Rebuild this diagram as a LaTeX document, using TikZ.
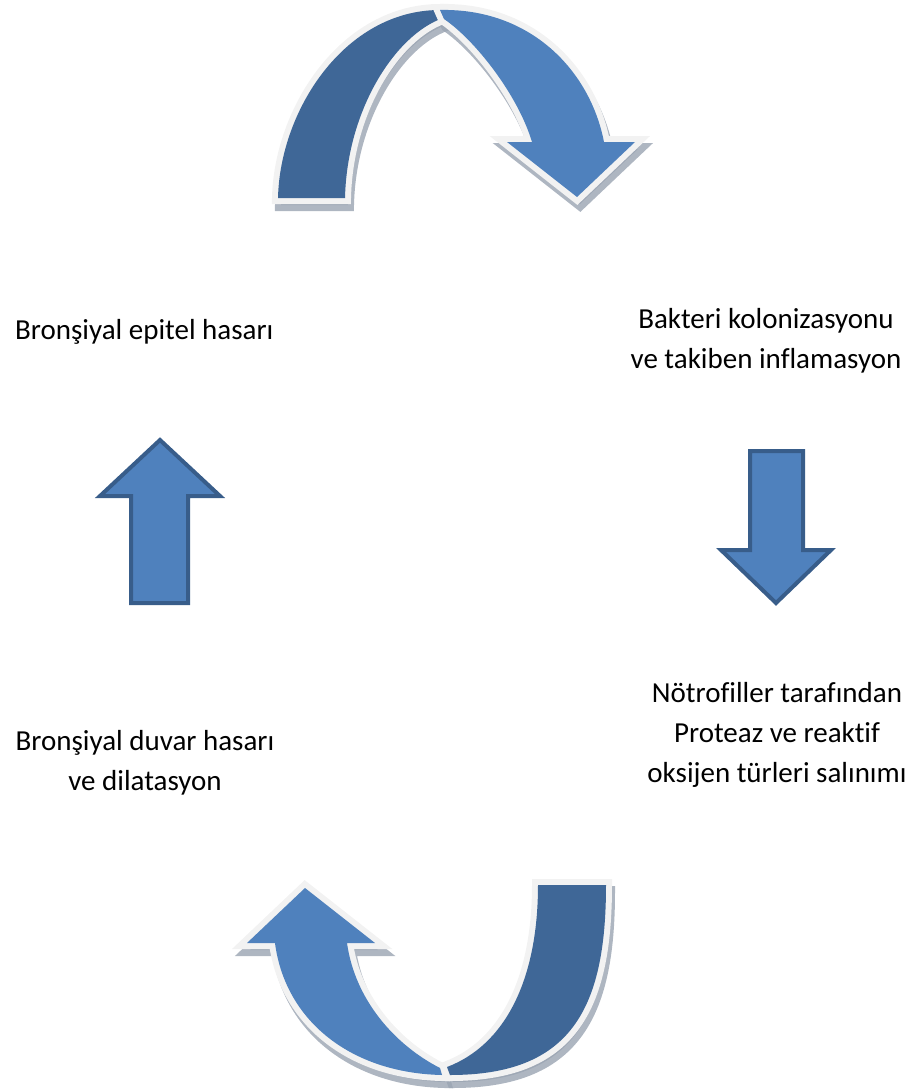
\documentclass[tikz,border=0pt]{standalone}
\usepackage{fontspec}
\setmainfont{Carlito}[Ligatures=CommonOff]
\definecolor{abl}{HTML}{4F81BD}
\definecolor{abd}{HTML}{385D8A}
\definecolor{bandd}{HTML}{3F6797}
\definecolor{rim}{HTML}{F2F2F2}
\definecolor{shd}{HTML}{9AA4B2}
\begin{document}
\begin{tikzpicture}[x=1pt,y=-1pt,
  straight/.style={fill=abl,draw=abd,line width=4pt,line join=miter},
  txt/.style={font=\fontsize{29}{40}\selectfont, align=center, inner sep=0pt, anchor=base},
  topback/.style={insert path={(278,198) .. controls (280,110) and (345,10) .. (440,10) -- (443,18) .. controls (395,35) and (347,110) .. (345,198) -- cycle}},
  topfront/.style={insert path={(440,10) .. controls (530,8) and (590,70) .. (604,142) -- (635,142) -- (577,197) -- (507,142) -- (532,142) .. controls (518,95) and (475,40) .. (444,19) -- cycle}},
  botback/.style={insert path={(606,885) .. controls (606,1010) and (570,1075) .. (450,1075) -- (447,1067) .. controls (505,1045) and (538,980) .. (538,885) -- cycle}},
  botfront/.style={insert path={(305,888) -- (375,943) -- (347,943) .. controls (355,1000) and (395,1045) .. (440,1068) -- (442,1075) .. controls (350,1073) and (285,1020) .. (275,943) -- (247,943) -- cycle}},
  rimmed/.style={draw=rim,line width=12pt,line join=miter},
  shadowed/.style={fill=shd,draw=shd,line width=12pt,line join=miter,opacity=0.8}
]
\useasboundingbox (0,0) rectangle (916,1090);
% shadows of the curved arrows
\begin{scope}[shift={(3,7)}]
  \path[shadowed,topback];
  \path[shadowed,topfront];
  \path[shadowed,botback];
  \path[shadowed,botfront];
\end{scope}
% top curved arrow
\path[rimmed,fill=bandd,topback];
\path[fill=bandd,topback];
\path[rimmed,fill=abl,topfront];
\path[fill=abl,topfront];
% bottom curved arrow
\path[rimmed,fill=bandd,botback];
\path[fill=bandd,botback];
\path[rimmed,fill=abl,botfront];
\path[fill=abl,botfront];
% straight arrows
\draw[straight] (160,440) -- (220,496) -- (188,496) -- (188,603) -- (131,603) -- (131,496) -- (100,496) -- cycle;
\draw[straight] (750,451) -- (803,451) -- (803,550) -- (831,550) -- (776,603) -- (721,550) -- (750,550) -- cycle;
% texts
\node[txt,anchor=base west] (t1) at (15,339) {Bronşiyal epitel hasarı};
\node[txt] (t2) at (766,368) {Bakteri kolonizasyonu\\ve takiben inflamasyon};
\node[txt] (t3) at (777,782) {Nötrofiller tarafından\\Proteaz ve reaktif\\oksijen türleri salınımı};
\node[txt] (t4) at (145,790) {Bronşiyal duvar hasarı\\ve dilatasyon};
\end{tikzpicture}
\end{document}
